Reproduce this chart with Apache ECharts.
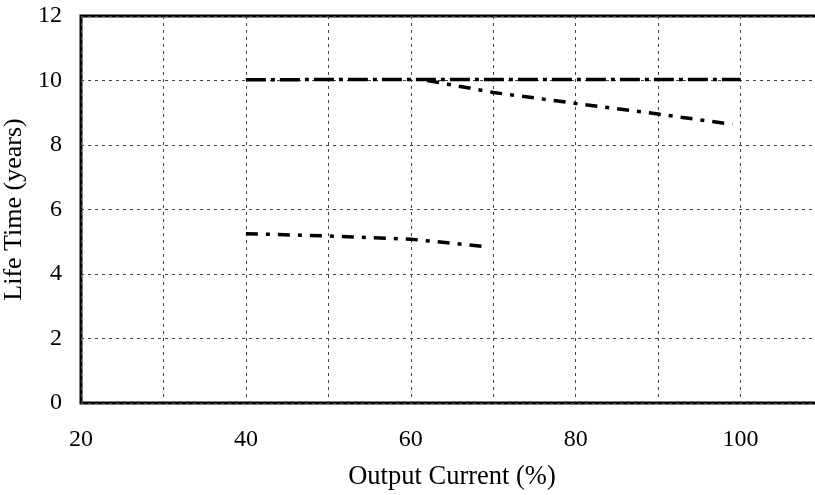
<!DOCTYPE html>
<html>
<head>
<meta charset="utf-8">
<script src="https://cdn.jsdelivr.net/npm/echarts@6/dist/echarts.min.js"></script>
<style>
  html, body { margin: 0; padding: 0; background: #fff; }
  #chart { width: 815px; height: 495px; }
</style>
</head>
<body>
<div id="chart"></div>
<script>
// curves: [output current %, life time years]
var flatLine = [[40, 10.02], [50, 10.03], [60, 10.03], [70, 10.03], [80, 10.03], [90, 10.03], [100, 10.03]];
var upperDrop = [[62, 10.0], [70, 9.63], [80, 9.29], [90, 8.96], [99, 8.64]];
var lowerDrop = [[40, 5.25], [50, 5.18], [60, 5.08], [69, 4.85]];
var xLabels = [20, 40, 60, 80, 100];

var chart = echarts.init(document.getElementById('chart'));

var font = 'Liberation Serif';

function lineSeries(data, dash, width) {
    return {
        type: 'line',
        data: data,
        showSymbol: false,
        symbol: 'none',
        smooth: false,
        silent: true,
        lineStyle: {
            color: '#000',
            width: width,
            type: dash,
            cap: 'butt'
        },
        z: 5
    };
}

var option = {
    animation: false,
    backgroundColor: '#fff',
    grid: {
        left: 81,
        right: -8,
        top: 16,
        bottom: 92,
        outerBoundsMode: 'none',
        containLabel: false,
        show: true,
        borderColor: '#000',
        borderWidth: 3,
        backgroundColor: 'transparent'
    },
    xAxis: {
        type: 'value',
        min: 20,
        max: 110,
        interval: 10,
        name: 'Output Current (%)',
        nameLocation: 'middle',
        nameGap: 61,
        nameTextStyle: { fontFamily: font, fontSize: 26.5, color: '#000' },
        axisLine: { show: false },
        axisTick: { show: false },
        axisLabel: {
            margin: 25,
            fontFamily: font,
            fontSize: 24,
            color: '#000',
            formatter: function (v) {
                return xLabels.indexOf(v) >= 0 ? String(v) : '';
            }
        },
        splitLine: {
            show: true,
            lineStyle: { color: '#444', width: 1, type: [3, 4] }
        }
    },
    yAxis: {
        type: 'value',
        min: 0,
        max: 12,
        interval: 2,
        name: 'Life Time (years)',
        nameLocation: 'middle',
        nameGap: 47,
        nameTextStyle: { fontFamily: font, fontSize: 26, color: '#000' },
        axisLine: { show: false },
        axisTick: { show: false },
        axisLabel: {
            margin: 19,
            fontFamily: font,
            fontSize: 24,
            color: '#000'
        },
        splitLine: {
            show: true,
            lineStyle: { color: '#444', width: 1, type: [3, 4] }
        }
    },
    series: [
        lineSeries(flatLine, [20, 5, 4, 5], 3.5),
        lineSeries(upperDrop, [12, 8, 4, 8], 3.5),
        lineSeries(lowerDrop, [12, 8, 4, 8], 3.5)
    ]
};

chart.setOption(option);
</script>
</body>
</html>
